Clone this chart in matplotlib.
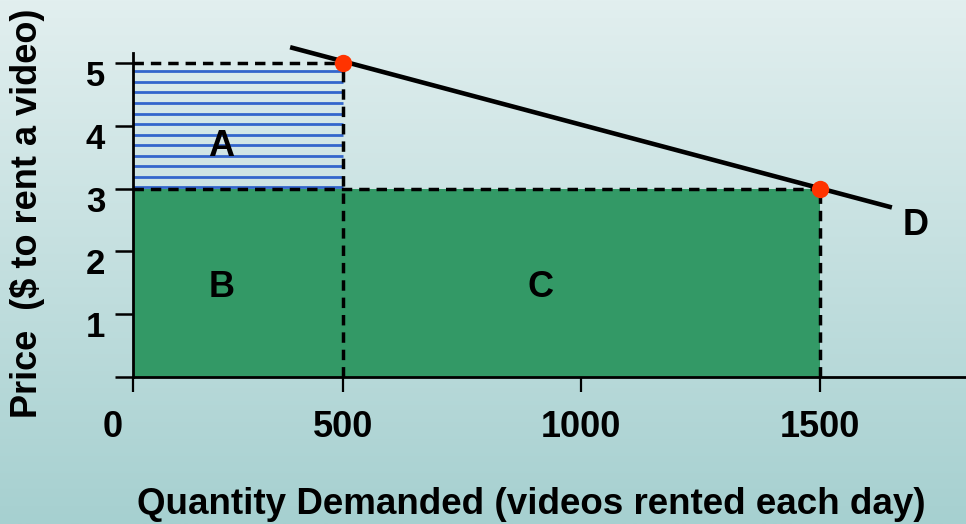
import numpy as np
import matplotlib
matplotlib.use("Agg")
import matplotlib.pyplot as plt
import matplotlib.transforms as mtrans
from matplotlib.colors import LinearSegmentedColormap
from matplotlib.patches import Rectangle

plt.rcParams['font.family'] = ['Liberation Sans', 'DejaVu Sans']
plt.rcParams['font.weight'] = 'bold'

# Two price/quantity points on the demand curve
quantities = [500, 1500]
prices = [5, 3]

# Demand curve P = 6 - 0.002 Q, drawn between these quantities
demand_q = [374, 1650]
demand_p = [6 - 0.002 * q for q in demand_q]

x_ticks = [0, 500, 1000, 1500]
x_tick_labels = ['0', '500', '1000', '1500']
y_ticks = [0, 1, 2, 3, 4, 5]
y_tick_labels = ['', '1', '2', '3', '4', '5']

region_labels = ['A', 'B', 'C', 'D']
region_q = [210, 210, 915, 1700]
region_p = [3.67, 1.42, 1.42, 2.42]

# Hand-drawn quantity axis: unequal spacing between tick marks
knots_q = np.array([-1000, 0, 500, 1000, 1500, 3000])
knots_px = np.array([-420, 0, 210, 448, 687, 1404])


def fwd(x):
    return np.interp(x, knots_q, knots_px)


def inv(x):
    return np.interp(x, knots_px, knots_q)


W, H, DPI = 966, 524, 100
fig = plt.figure(figsize=(W / DPI, H / DPI), dpi=DPI)

# Soft vertical gradient background
bg = fig.add_axes([0, 0, 1, 1], zorder=-10)
grad = np.linspace(0, 1, 256).reshape(-1, 1)
cmap = LinearSegmentedColormap.from_list('bg', ['#e2efef', '#a6d0d0'])
bg.imshow(grad, aspect='auto', cmap=cmap, extent=[0, 1, 0, 1], origin='upper')
bg.axis('off')

ax = fig.add_axes([133 / W, 147 / H, 833 / W, 324 / H])
ax.set_facecolor('none')
ax.set_xscale('function', functions=(fwd, inv))
ax.set_xlim(0, 1805)
ax.set_ylim(0, 5.16)

q1, q2 = quantities
p1, p2 = prices

# Areas B + C: revenue at the lower price
ax.add_patch(Rectangle((0, 0), q2, p2, facecolor='#339966', edgecolor='none', zorder=1))

# Area A: horizontal blue hatching between the two prices
step = (p1 - p2) / 11.9
hatch_y = p2 + 0.02 + step * np.arange(12)
ax.hlines(hatch_y, 0, q1, colors='#3366cc', linewidth=2.0, zorder=2)

# Dashed guides to the axes
dash = dict(color='black', linewidth=2.5, dashes=(3.0, 2.0), zorder=3)
ax.plot([0, q1], [p1, p1], **dash)
ax.plot([0, q2], [p2, p2], **dash)
ax.plot([q1, q1], [0, p1], **dash)
ax.plot([q2, q2], [0, p2], **dash)

# Demand curve and the two chosen points
ax.plot(demand_q, demand_p, color='black', linewidth=3.3, solid_capstyle='butt',
        zorder=4, clip_on=False)
ax.plot(quantities, prices, 'o', color='#ff3300', markersize=12.5, zorder=5,
        markeredgewidth=0, clip_on=False)

for lab, qx, py in zip(region_labels, region_q, region_p):
    ax.text(qx, py, lab, fontsize=26, fontweight='bold', ha='center', va='center', zorder=6)

for s in ['top', 'right']:
    ax.spines[s].set_visible(False)
for s in ['left', 'bottom']:
    ax.spines[s].set_linewidth(2)
    ax.spines[s].set_zorder(7)

ax.set_xticks(x_ticks)
ax.set_xticklabels(x_tick_labels)
ax.set_yticks(y_ticks)
ax.set_yticklabels(y_tick_labels)
ax.minorticks_off()
ax.tick_params(axis='x', length=11, width=1.6, pad=13, labelsize=26, direction='out')
ax.tick_params(axis='y', length=13, width=1.8, pad=7, labelsize=25, direction='out')
for lbl in ax.get_yticklabels():
    lbl.set_verticalalignment('top')
    lbl.set_fontweight('bold')
for lbl in ax.get_xticklabels():
    lbl.set_fontweight('bold')

# Price labels hang slightly above their ticks' top edge
for tk in ax.yaxis.get_major_ticks():
    tk.label1.set_transform(tk.label1.get_transform()
                            + mtrans.ScaledTranslation(0, 3 / DPI, fig.dpi_scale_trans))

# Zero label sits a little left of its tick
t0 = ax.xaxis.get_major_ticks()[0]
t0.label1.set_transform(t0.label1.get_transform()
                        + mtrans.ScaledTranslation(-20.5 / DPI, 0, fig.dpi_scale_trans))

fig.text(531 / W, 1 - 505 / H, 'Quantity Demanded (videos rented each day)',
         fontsize=26.5, fontweight='bold', ha='center', va='center')
fig.text(28 / W, 1 - 213 / H, 'Price  ($ to rent a video)',
         fontsize=26, fontweight='bold', ha='center', va='center', rotation=90)

fig.savefig('out.png', dpi=DPI)
